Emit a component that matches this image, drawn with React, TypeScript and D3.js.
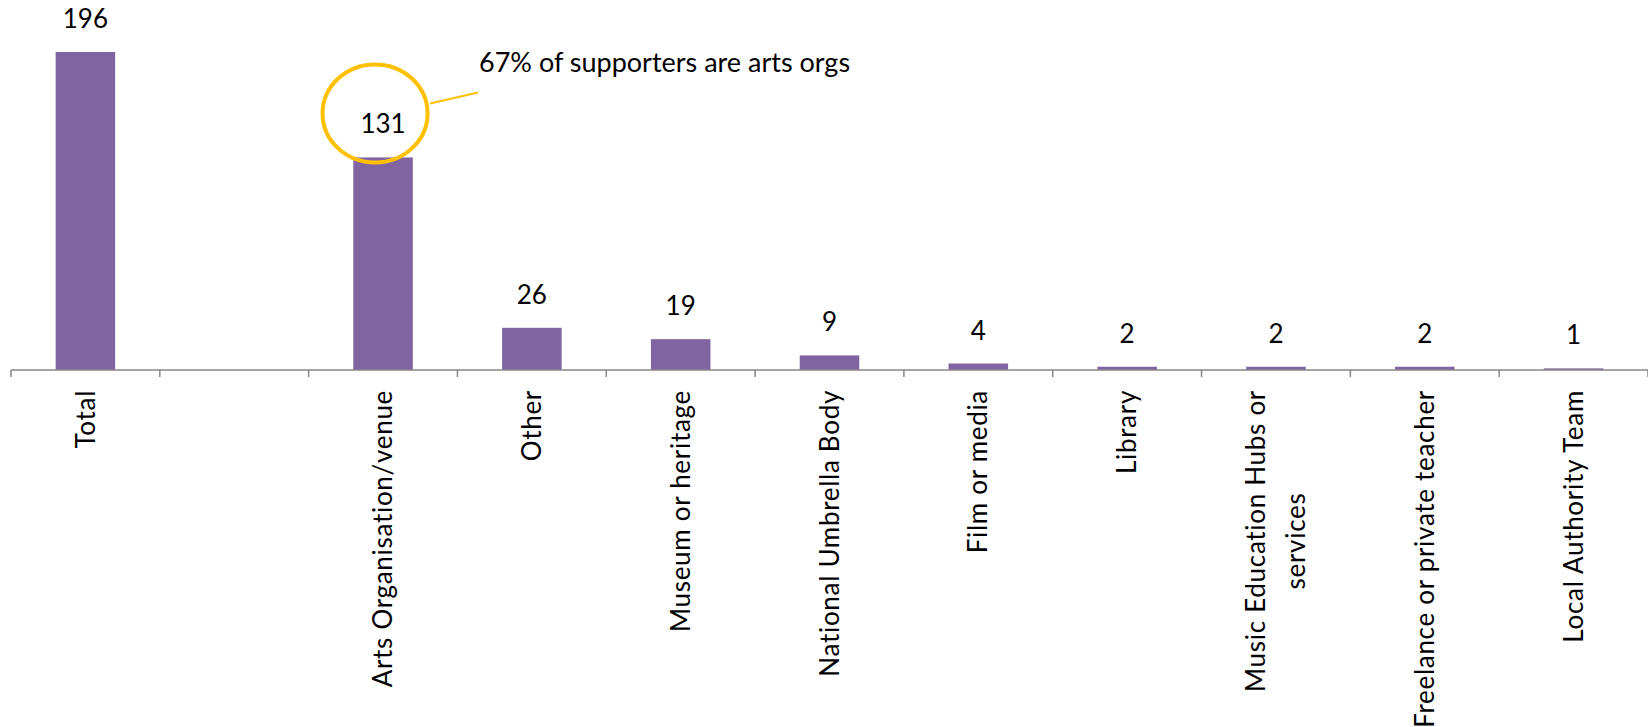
import { useEffect, useRef } from 'react';
import * as d3 from 'd3';

// categories as shown on the x axis (second slot is an empty spacer column)
const categories = [
  'Total',
  '',
  'Arts Organisation/venue',
  'Other',
  'Museum or heritage',
  'National Umbrella Body',
  'Film or media',
  'Library',
  'Music Education Hubs or\nservices',
  'Freelance or private teacher',
  'Local Authority Team',
];
const values: (number | null)[] = [196, null, 131, 26, 19, 9, 4, 2, 2, 2, 1];
const yDomain = [0, 200];
const annotationIndex = 2;
const annotationText = '67% of supporters are arts orgs';

const WIDTH = 1648;
const HEIGHT = 727;
const FONT = 'Lato, "Open Sans", sans-serif';

const App = (): JSX.Element => {
  const svgRef = useRef<SVGSVGElement>(null);

  useEffect(() => {
    const svg = d3.select(svgRef.current);
    svg.selectAll('*').remove();

    const left = 11;
    const right = 1648;
    const baseY = 370;

    const x = d3.scaleBand<number>()
      .domain(d3.range(categories.length))
      .range([left, right])
      .paddingInner(0.6)
      .paddingOuter(0.3);
    const y = d3.scaleLinear().domain(yDomain).range([baseY, 45.5]);
    const step = x.step();
    const bw = x.bandwidth();

    const rows = values
      .map((v, i) => ({ v, i }))
      .filter(d => d.v !== null) as { v: number, i: number }[];

    // bars
    svg.append('g')
      .selectAll('rect')
      .data(rows)
      .enter()
      .append('rect')
      .attr('x', d => x(d.i) as number)
      .attr('y', d => y(d.v))
      .attr('width', bw)
      .attr('height', d => baseY - y(d.v))
      .attr('fill', '#8064A2');

    // value labels
    svg.append('g')
      .selectAll('text')
      .data(rows)
      .enter()
      .append('text')
      .attr('x', d => (x(d.i) as number) + bw / 2)
      .attr('y', d => y(d.v) - 24)
      .attr('text-anchor', 'middle')
      .attr('font-family', FONT)
      .attr('font-size', 26)
      .attr('fill', '#000')
      .text(d => d.v);

    // axis line + ticks at the band edges
    const axis = svg.append('g').attr('stroke', '#868686').attr('stroke-width', 1.5);
    axis.append('line')
      .attr('x1', left).attr('x2', right)
      .attr('y1', baseY).attr('y2', baseY);
    axis.selectAll('line.tick')
      .data(d3.range(categories.length + 1))
      .enter()
      .append('line')
      .attr('class', 'tick')
      .attr('x1', i => left + i * step)
      .attr('x2', i => left + i * step)
      .attr('y1', baseY)
      .attr('y2', baseY + 7);

    // rotated category labels
    const labelTop = 390;
    const lineGap = 40;
    categories.forEach((cat, i) => {
      if (!cat) return;
      const lines = cat.split('\n');
      const g = svg.append('g')
        .attr('transform', `translate(${(x(i) as number) + bw / 2},${labelTop}) rotate(-90)`);
      const text = g.append('text')
        .attr('text-anchor', 'middle')
        .attr('font-family', FONT)
        .attr('font-size', 26)
        .attr('letter-spacing', 0.7)
        .attr('fill', '#000');
      lines.forEach((line, k) => {
        text.append('tspan')
          .attr('x', 0)
          .attr('y', (k - (lines.length - 1) / 2) * lineGap)
          .attr('dy', '0.35em')
          .text(line);
      });
      let maxLen = 0;
      text.selectAll<SVGTSpanElement, unknown>('tspan').each(function () {
        maxLen = Math.max(maxLen, this.getComputedTextLength());
      });
      text.selectAll('tspan').attr('x', -maxLen / 2);
    });

    // callout on the arts organisations bar
    const cx = (x(annotationIndex) as number) + bw / 2 - 8;
    const cy = y(values[annotationIndex] as number) - 44;
    svg.append('ellipse')
      .attr('cx', cx)
      .attr('cy', cy)
      .attr('rx', 52.5)
      .attr('ry', 49)
      .attr('fill', 'none')
      .attr('stroke', '#FFC000')
      .attr('stroke-width', 4);
    svg.append('line')
      .attr('x1', cx + 55)
      .attr('y1', cy - 10)
      .attr('x2', cx + 103)
      .attr('y2', cy - 21)
      .attr('stroke', '#FFC000')
      .attr('stroke-width', 2);
    svg.append('text')
      .attr('x', cx + 104)
      .attr('y', cy - 41)
      .attr('font-family', FONT)
      .attr('font-size', 27)
      .attr('fill', '#000')
      .text(annotationText);
  }, []);

  return (
    <svg
      ref={svgRef}
      width={WIDTH}
      height={HEIGHT}
      style={{ position: 'absolute', left: 0, top: 0, background: '#fff' }}
    />
  );
};

export default App;
